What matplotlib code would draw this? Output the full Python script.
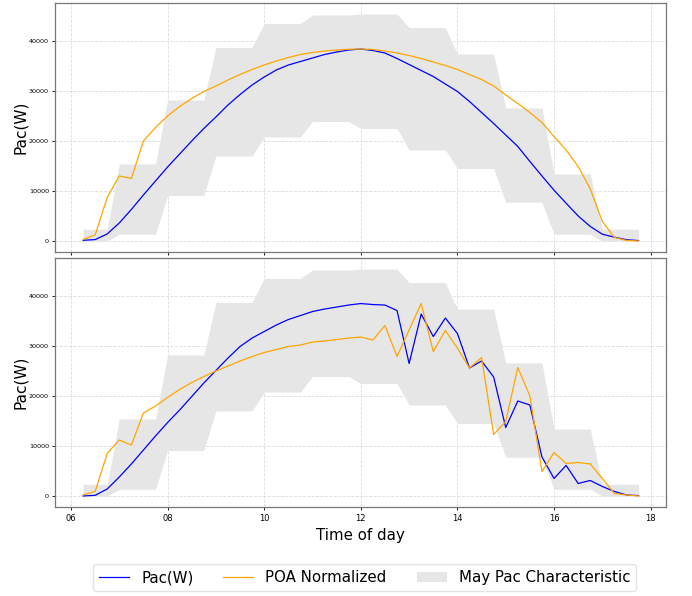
import numpy as np
import pandas as pd
import matplotlib
matplotlib.use("Agg")
import matplotlib.pyplot as plt
import matplotlib.dates as mdates
from matplotlib.lines import Line2D
from matplotlib.patches import Patch

# ---------------- data ----------------
times = pd.date_range("2021-05-20 06:15", "2021-05-20 17:45", freq="15min")

# hourly characteristic envelope (May), keyed by hour of day
char_hours = [6, 7, 8, 9, 10, 11, 12, 13, 14, 15, 16, 17]
char_upper = [2340, 15400, 28200, 38700, 43500, 45200, 45400, 42700, 37400, 26600, 13400, 2340]
char_lower = [0, 1340, 9100, 17000, 20800, 23900, 22500, 18200, 14500, 7750, 1340, 0]

# top panel (clear day)
pac_top = [130, 270, 1400, 3600, 6300, 9200, 12000, 14800, 17400, 20000, 22500, 24800,
           27200, 29300, 31200, 32800, 34200, 35200, 35900, 36600, 37300, 37800, 38200, 38400,
           38100, 37600, 36500, 35300, 34100, 32900, 31400, 29900, 27900, 25700, 23500, 21200,
           18900, 15900, 13000, 10150, 7550, 5000, 2900, 1350, 750, 250, 70]
poa_top = [300, 1200, 8700, 13000, 12500, 20000, 22700, 25000, 26900, 28500, 29900, 31000,
           32200, 33300, 34300, 35200, 36000, 36700, 37300, 37700, 38000, 38200, 38350, 38400,
           38300, 38000, 37600, 37100, 36500, 35800, 35100, 34300, 33300, 32300, 31000, 29200,
           27500, 25700, 23700, 20900, 18200, 14900, 10400, 3900, 700, 100, 0]

# bottom panel (cloudy afternoon)
pac_bot = [0, 130, 1400, 3800, 6400, 9200, 12000, 14700, 17200, 19900, 22600, 25100,
           27600, 29900, 31600, 32900, 34200, 35300, 36100, 36900, 37400, 37800, 38200, 38500,
           38300, 38200, 37100, 26500, 36400, 31900, 35600, 32500, 25600, 27000, 23800, 13700,
           19000, 18200, 7800, 3500, 6100, 2500, 3100, 1900, 900, 200, 70]
poa_bot = [200, 900, 8500, 11200, 10200, 16600, 18000, 19700, 21300, 22700, 23900, 25000,
           26000, 27000, 27900, 28700, 29300, 29900, 30200, 30800, 31000, 31300, 31600, 31800,
           31200, 34100, 27900, 33200, 38500, 28900, 33100, 29600, 25600, 27700, 12300, 14900,
           25700, 20000, 4900, 8700, 6500, 6700, 6400, 3500, 500, 200, 0]

y_ticks = [0, 10000, 20000, 30000, 40000]
labels = ["Pac(W)", "POA Normalized", "May Pac Characteristic"]

# ---------------- figure ----------------
fig = plt.figure(figsize=(6.92, 5.96), dpi=100)
left, right = 0.0799, 0.9629
ax1 = fig.add_axes([left, 0.5767, right - left, 0.9955 - 0.5767])
ax2 = fig.add_axes([left, 0.1488, right - left, 0.5676 - 0.1488], sharex=ax1)

up_map = dict(zip(char_hours, char_upper))
lo_map = dict(zip(char_hours, char_lower))
env_hi = [up_map[h] for h in times.hour]
env_lo = [lo_map[h] for h in times.hour]

for ax, pac, poa in [(ax1, pac_top, poa_top), (ax2, pac_bot, poa_bot)]:
    ax.fill_between(times, env_lo, env_hi, color="#e6e6e6", linewidth=0, zorder=1)
    ax.plot(times, pac, color="blue", linewidth=0.9, zorder=3)
    ax.plot(times, poa, color="orange", linewidth=0.9, zorder=3)
    ax.set_yticks(y_ticks)
    ax.set_ylabel("Pac(W)", fontsize=11)
    ax.grid(True, linestyle="--", color="#dddddd", linewidth=0.6, zorder=0)
    ax.set_axisbelow(True)
    ax.tick_params(axis="y", labelsize=4.6, length=2.5, width=0.6, pad=2)
    ax.tick_params(axis="x", labelsize=6, length=2.5, width=0.6, pad=2)
    for sp in ax.spines.values():
        sp.set_color("#777777")
        sp.set_linewidth(0.9)
    ax.yaxis.set_label_coords(-0.045, 0.5)

ax2.xaxis.set_major_locator(mdates.HourLocator(byhour=range(6, 19, 2)))
ax2.xaxis.set_major_formatter(mdates.DateFormatter("%H"))
plt.setp(ax1.get_xticklabels(), visible=False)
ax2.set_xlabel("Time of day", fontsize=10.8, labelpad=4)

handles = [Line2D([], [], color="blue", linewidth=0.9),
           Line2D([], [], color="orange", linewidth=0.9),
           Patch(facecolor="#e6e6e6", edgecolor="none")]
fig.legend(handles, labels, loc="center", bbox_to_anchor=(0.527, 0.031), ncol=3,
           fontsize=10.8, frameon=True, edgecolor="#dddddd", fancybox=True)

fig.savefig("out.png", dpi=100)
